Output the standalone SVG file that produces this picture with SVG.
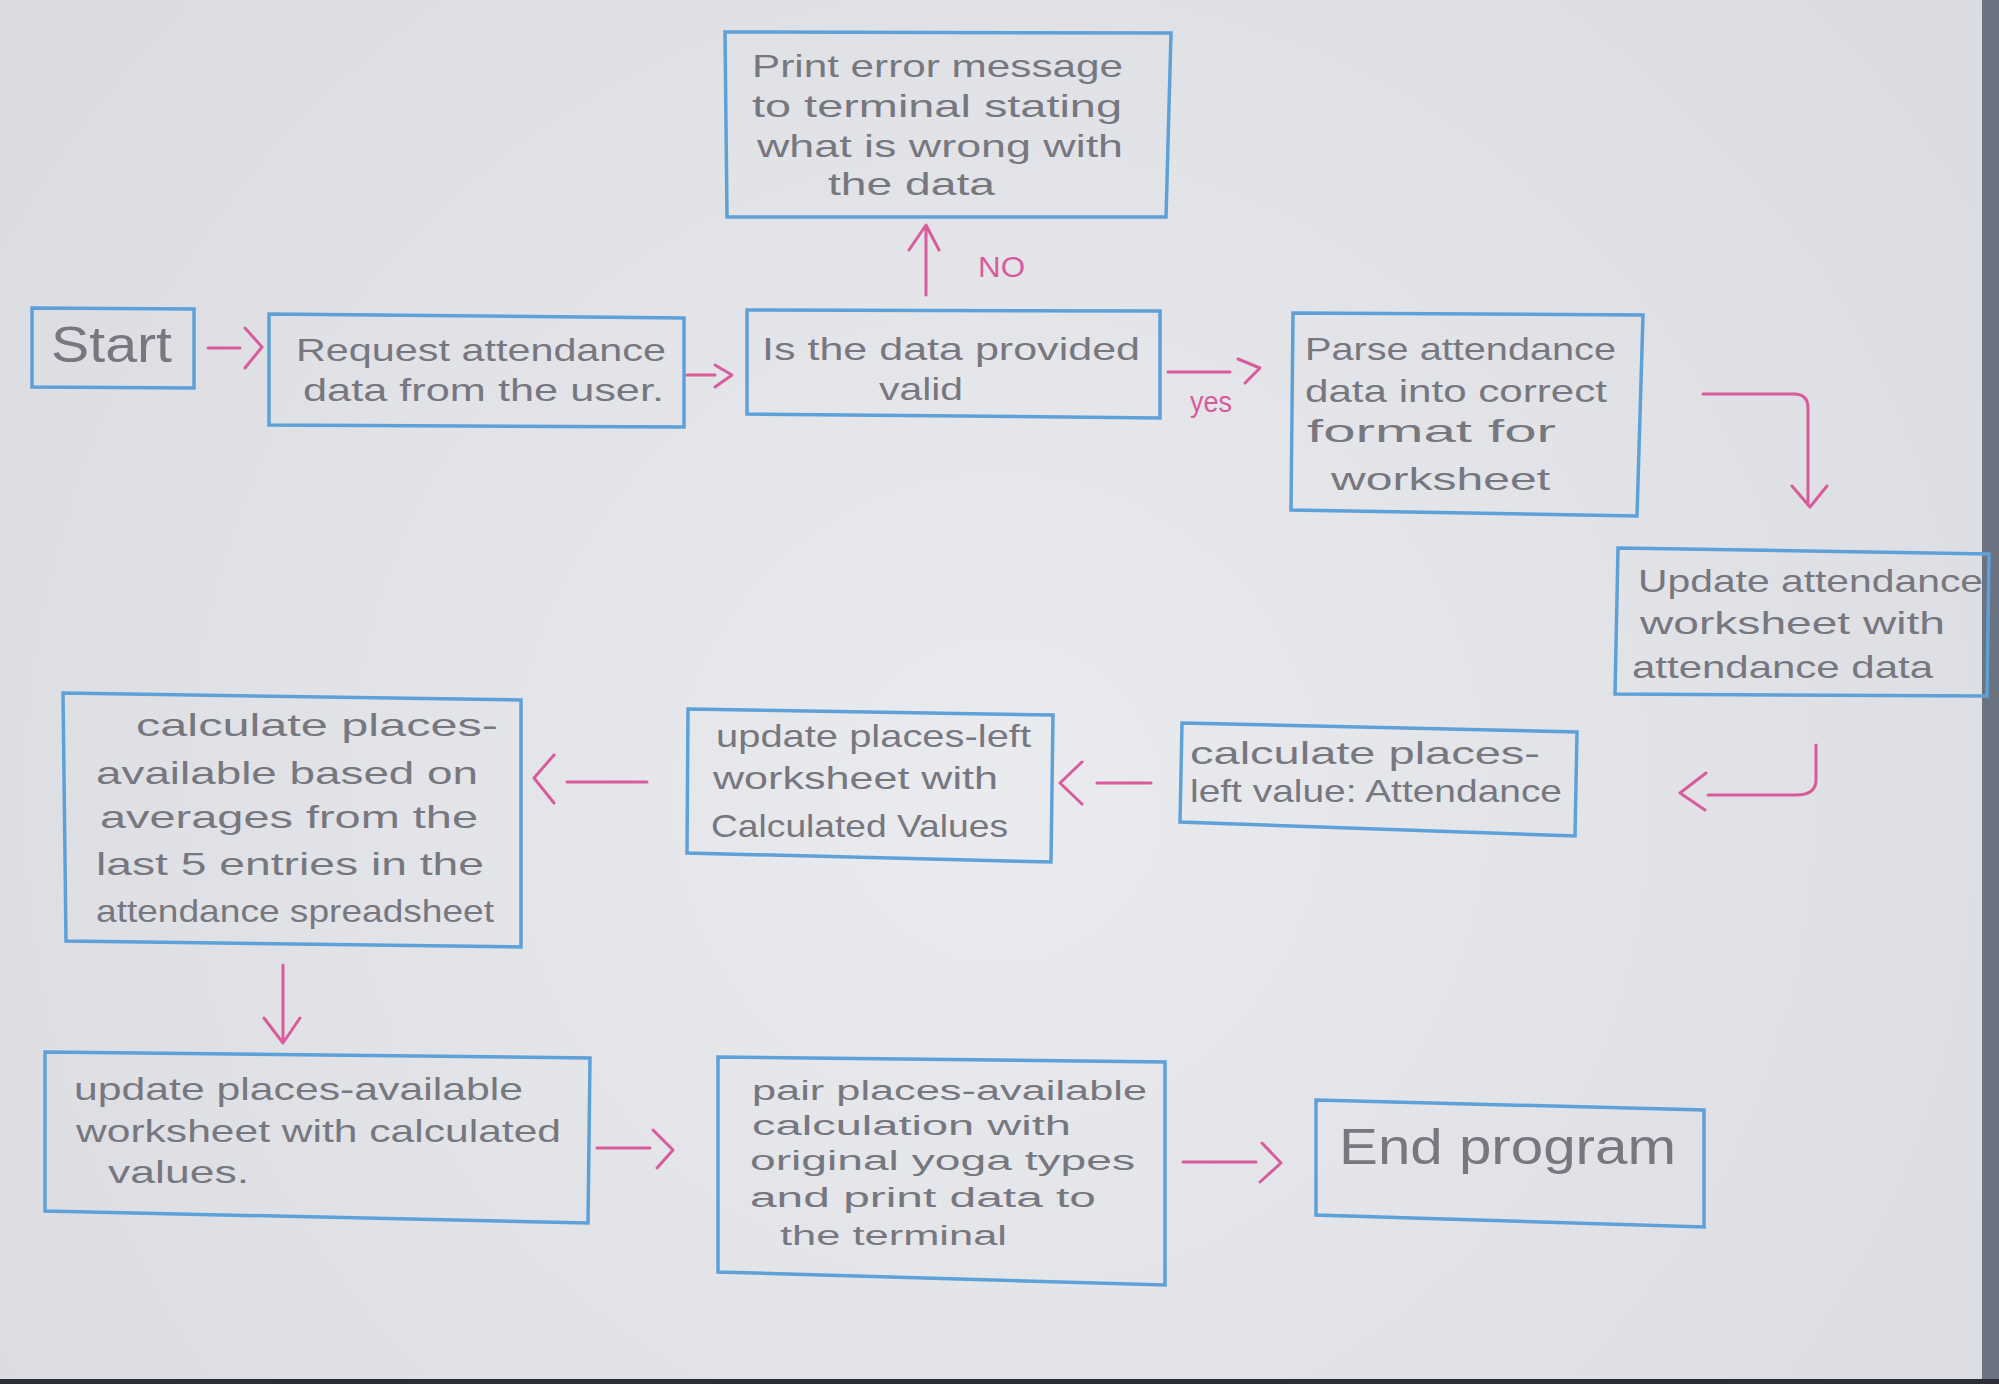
<svg xmlns="http://www.w3.org/2000/svg" width="1999" height="1384" viewBox="0 0 1999 1384">
<defs>
<radialGradient id="bg" cx="1000" cy="800" r="1300" gradientUnits="userSpaceOnUse">
<stop offset="0" stop-color="#eaebef"/>
<stop offset="1" stop-color="#dadbe0"/>
</radialGradient>
<style>
.box{fill:none;stroke:#5ea0d8;stroke-width:3.5;stroke-linejoin:miter}
.arr{fill:none;stroke:#d85c9c;stroke-width:3;stroke-linecap:round;stroke-linejoin:round}
.t{font-family:"Liberation Sans",Arial,sans-serif;font-size:32px;fill:#77777f}
.sm{font-size:27px}
.big{font-size:50px}
.lbl{font-family:"Liberation Sans",Arial,sans-serif;font-size:30px;fill:#d85c9c}
</style>
</defs>
<rect x="0" y="0" width="1999" height="1384" fill="url(#bg)"/>
<rect x="1982" y="0" width="17" height="1384" fill="#6b7381"/>
<rect x="0" y="1379" width="1999" height="5" fill="#2b2e34"/>

<g id="connectors">
<path class="arr" d="M208 348 H240 M245 328 L262 347 L245 368"/>
<path class="arr" d="M687 375 H715 M715 365 L732 375 L715 387"/>
<path class="arr" d="M926 295 V226 M909 250 L926 225 L939 250"/>
<path class="arr" d="M1168 372 H1230 M1238 359 L1260 368 L1245 383"/>
<path class="arr" d="M1703 394 H1794 Q1808 394 1808 408 V505 M1792 486 L1810 507 L1827 486"/>
<path class="arr" d="M1816 745 V780 Q1816 795 1796 795 H1708 M1706 773 L1680 793 L1705 810"/>
<path class="arr" d="M1097 783 H1151 M1082 762 L1060 783 L1082 804"/>
<path class="arr" d="M567 782 H647 M554 755 L534 778 L554 803"/>
<path class="arr" d="M283 965 V1043 M264 1018 L283 1043 L300 1018"/>
<path class="arr" d="M597 1148 H650 M653 1130 L673 1150 L657 1168"/>
<path class="arr" d="M1183 1162 H1256 M1262 1143 L1281 1163 L1260 1182"/>
<text class="lbl" x="978" y="277" textLength="47" lengthAdjust="spacingAndGlyphs">NO</text>
<text class="lbl" x="1190" y="412" textLength="42" lengthAdjust="spacingAndGlyphs">yes</text>
</g>

<g id="start">
<polygon class="box" points="32,308 194,309 194,388 32,387"/>
<text class="t big" x="51" y="362" textLength="121" lengthAdjust="spacingAndGlyphs">Start</text>
</g>

<g id="request">
<polygon class="box" points="269,314 684,318 684,427 269,425"/>
<text class="t" x="296" y="361" textLength="370" lengthAdjust="spacingAndGlyphs">Request attendance</text>
<text class="t" x="303" y="401" textLength="361" lengthAdjust="spacingAndGlyphs">data from the user.</text>
</g>

<g id="valid">
<polygon class="box" points="747,310 1160,311 1160,418 747,414"/>
<text class="t" x="762" y="360" textLength="378" lengthAdjust="spacingAndGlyphs">Is the data provided</text>
<text class="t" x="879" y="400" textLength="84" lengthAdjust="spacingAndGlyphs">valid</text>
</g>

<g id="error">
<polygon class="box" points="725,32 1171,33 1166,217 727,217"/>
<text class="t" x="752" y="77" textLength="371" lengthAdjust="spacingAndGlyphs">Print error message</text>
<text class="t" x="752" y="117" textLength="370" lengthAdjust="spacingAndGlyphs">to terminal stating</text>
<text class="t" x="757" y="157" textLength="366" lengthAdjust="spacingAndGlyphs">what is wrong with</text>
<text class="t" x="828" y="195" textLength="167" lengthAdjust="spacingAndGlyphs">the data</text>
</g>

<g id="parse">
<polygon class="box" points="1293,313 1643,315 1637,516 1291,510"/>
<text class="t" x="1305" y="360" textLength="311" lengthAdjust="spacingAndGlyphs">Parse attendance</text>
<text class="t" x="1305" y="402" textLength="302" lengthAdjust="spacingAndGlyphs">data into correct</text>
<text class="t" x="1307" y="442" textLength="249" lengthAdjust="spacingAndGlyphs">format for</text>
<text class="t" x="1331" y="490" textLength="219" lengthAdjust="spacingAndGlyphs">worksheet</text>
</g>

<g id="update-attendance">
<polygon class="box" points="1618,548 1989,554 1987,696 1615,694"/>
<text class="t" x="1638" y="592" textLength="345" lengthAdjust="spacingAndGlyphs">Update attendance</text>
<text class="t" x="1640" y="634" textLength="305" lengthAdjust="spacingAndGlyphs">worksheet with</text>
<text class="t" x="1632" y="678" textLength="301" lengthAdjust="spacingAndGlyphs">attendance data</text>
</g>

<g id="calc-left">
<polygon class="box" points="1182,723 1577,732 1575,836 1180,822"/>
<text class="t" x="1190" y="764" textLength="350" lengthAdjust="spacingAndGlyphs">calculate places-</text>
<text class="t" x="1190" y="802" textLength="372" lengthAdjust="spacingAndGlyphs">left value: Attendance</text>
</g>

<g id="update-left">
<polygon class="box" points="688,709 1053,715 1051,862 687,853"/>
<text class="t" x="716" y="747" textLength="315" lengthAdjust="spacingAndGlyphs">update places-left</text>
<text class="t" x="713" y="789" textLength="285" lengthAdjust="spacingAndGlyphs">worksheet with</text>
<text class="t" x="711" y="837" textLength="297" lengthAdjust="spacingAndGlyphs">Calculated Values</text>
</g>

<g id="calc-available">
<polygon class="box" points="63,693 521,700 521,947 66,941"/>
<text class="t" x="136" y="736" textLength="362" lengthAdjust="spacingAndGlyphs">calculate places-</text>
<text class="t" x="96" y="784" textLength="382" lengthAdjust="spacingAndGlyphs">available based on</text>
<text class="t" x="100" y="828" textLength="378" lengthAdjust="spacingAndGlyphs">averages from the</text>
<text class="t" x="96" y="875" textLength="388" lengthAdjust="spacingAndGlyphs">last 5 entries in the</text>
<text class="t" x="96" y="922" textLength="398" lengthAdjust="spacingAndGlyphs">attendance spreadsheet</text>
</g>

<g id="update-available">
<polygon class="box" points="45,1052 590,1058 588,1223 45,1211"/>
<text class="t" x="74" y="1100" textLength="449" lengthAdjust="spacingAndGlyphs">update places-available</text>
<text class="t" x="76" y="1142" textLength="485" lengthAdjust="spacingAndGlyphs">worksheet with calculated</text>
<text class="t" x="108" y="1183" textLength="141" lengthAdjust="spacingAndGlyphs">values.</text>
</g>

<g id="pair">
<polygon class="box" points="718,1057 1165,1062 1165,1285 718,1272"/>
<text class="t sm" x="752" y="1100" textLength="395" lengthAdjust="spacingAndGlyphs">pair places-available</text>
<text class="t sm" x="752" y="1135" textLength="319" lengthAdjust="spacingAndGlyphs">calculation with</text>
<text class="t sm" x="750" y="1170" textLength="385" lengthAdjust="spacingAndGlyphs">original yoga types</text>
<text class="t sm" x="750" y="1207" textLength="346" lengthAdjust="spacingAndGlyphs">and print data to</text>
<text class="t sm" x="780" y="1245" textLength="227" lengthAdjust="spacingAndGlyphs">the terminal</text>
</g>

<g id="end">
<polygon class="box" points="1316,1100 1704,1110 1704,1227 1316,1215"/>
<text class="t big" x="1339" y="1164" textLength="337" lengthAdjust="spacingAndGlyphs">End program</text>
</g>
</svg>
